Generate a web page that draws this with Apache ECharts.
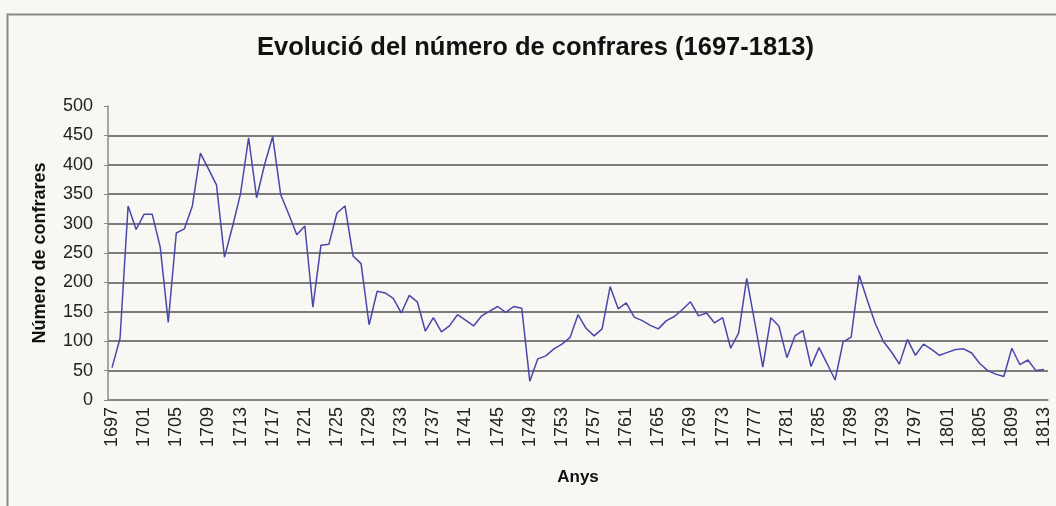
<!DOCTYPE html>
<html>
<head>
<meta charset="utf-8">
<script src="https://cdn.jsdelivr.net/npm/echarts@6/dist/echarts.min.js"></script>
<style>
html, body { margin: 0; padding: 0; background: #f8f7f3; }
#container { width: 1056px; height: 506px; }
</style>
</head>
<body>
<div id="container"></div>
<script>
var firstYear = 1697;
var lastYear = 1813;

// nombre de confrares per any, 1697-1813
var confrares = [
    55, 105, 330, 290, 316, 316, 260, 132, 284, 291,
    330, 420, 393, 366, 243, 295, 351, 446, 344, 401,
    448, 349, 316, 281, 296, 158, 263, 265, 318, 330,
    245, 232, 128, 185, 182, 173, 148, 178, 167, 117,
    140, 116, 126, 145, 136, 126, 143, 151, 159, 149,
    159, 156, 32, 70, 75, 87, 95, 106, 145, 122,
    109, 121, 193, 155, 165, 141, 135, 127, 121, 135,
    142, 154, 167, 143, 148, 131, 140, 88, 114, 207,
    132, 56, 140, 126, 72, 109, 118, 57, 89, 62,
    34, 99, 107, 212, 170, 130, 100, 82, 61, 103,
    76, 95, 86, 76, 81, 86, 87, 80, 62, 50,
    44, 40, 88, 60, 68, 50, 52
];

var anys = [];
for (var y = firstYear; y <= lastYear; y++) {
    anys.push(String(y));
}

var yTicks = [0, 50, 100, 150, 200, 250, 300, 350, 400, 450, 500];

var dom = document.getElementById("container");
var myChart = echarts.init(dom);

// no gridline on top (500)
var gridColors = yTicks.map(function (v) {
    return v === 500 ? 'rgba(0,0,0,0)' : '#7c7c7c';
});

var option = {
    backgroundColor: '#f8f7f3',
    animation: false,
    textStyle: { fontFamily: 'Liberation Sans, Arial, sans-serif' },
    title: {
        text: 'Evolució del número de confrares (1697-1813)',
        left: 252,
        top: 30,
        textStyle: { fontSize: 25.5, fontWeight: 'bold', color: '#111' }
    },
    graphic: [{
        type: 'rect',
        left: 5,
        top: 12,
        shape: { width: 1200, height: 700 },
        style: { fill: 'none', stroke: '#8a8a8a', lineWidth: 2 },
        silent: true
    }],
    grid: {
        left: 108,
        right: 8,
        top: 106,
        bottom: 106
    },
    xAxis: {
        type: 'category',
        data: anys,
        boundaryGap: true,
        name: 'Anys',
        nameLocation: 'middle',
        nameGap: 69,
        nameTextStyle: { fontSize: 17, fontWeight: 'bold', color: '#111' },
        axisLine: { lineStyle: { color: '#8a8a8a', width: 1.5 } },
        axisTick: { interval: 0, length: 4, lineStyle: { color: '#8a8a8a' } },
        axisLabel: {
            interval: 3,
            rotate: 90,
            fontSize: 18,
            color: '#222',
            margin: 7
        },
        splitLine: { show: false }
    },
    yAxis: {
        type: 'value',
        min: 0,
        max: 500,
        interval: 50,
        name: 'Número de confrares',
        nameLocation: 'middle',
        nameGap: 59,
        nameTextStyle: { fontSize: 18, fontWeight: 'bold', color: '#111' },
        axisLine: { show: true, lineStyle: { color: '#8a8a8a', width: 1.5 } },
        axisTick: { show: true, length: 4, lineStyle: { color: '#8a8a8a' } },
        axisLabel: { fontSize: 18, color: '#222', margin: 15 },
        splitLine: { lineStyle: { color: gridColors, width: 2 } }
    },
    series: [{
        name: 'Confrares',
        type: 'line',
        data: confrares,
        symbol: 'none',
        lineStyle: { color: '#4848aa', width: 1.5 }
    }]
};

myChart.setOption(option);
</script>
</body>
</html>
